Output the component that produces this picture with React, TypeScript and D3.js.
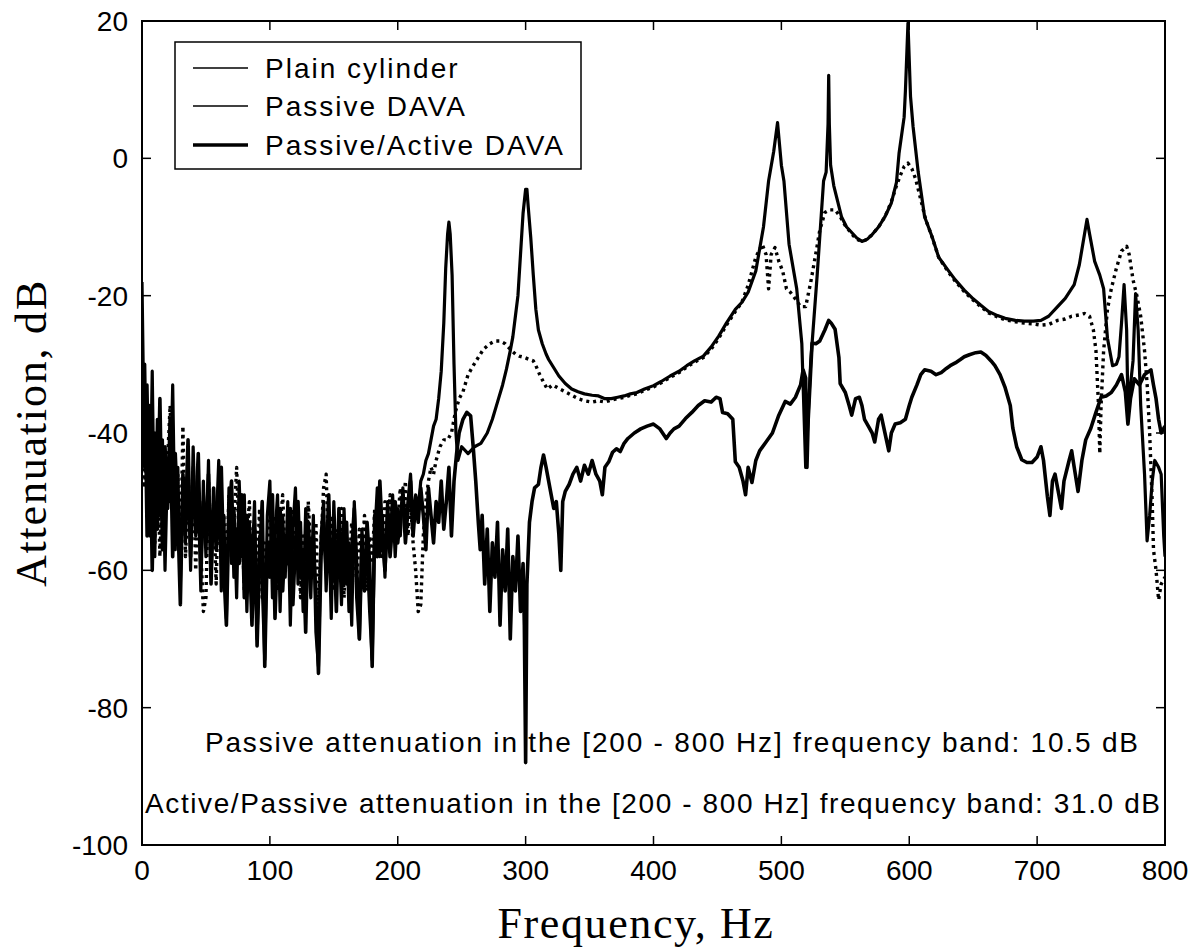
import React from "react";
import * as d3 from "d3";

// ---------- data ----------
const lowBandStepHz = 2; // noisy low band sampled every 2 Hz from 0 Hz
const plainLowDb = [-18,-45,-33,-55,-31,-58,-38,-52,-41,-60,-44,-50,-33,-57,-45,-62,-48,-56,-44,-60,-42,-55,-49,-63,-47,-58,-44,-61,-50,-54,-44,-63,-52,-67,-48,-59,-51,-64,-47,-58,-49,-66,-53,-60,-50,-70,-55,-62,-73,-52,-47,-64,-55,-49,-66,-52,-61,-50,-68,-54,-48,-62,-53,-66,-51,-58,-64,-52,-69,-74,-55,-50,-63,-53,-67,-50,-60,-55,-65,-51,-62,-56,-68,-50,-59,-70,-54,-61,-57,-66,-73,-55,-48,-58,-52,-61,-50,-56,-49,-58,-51,-55,-48,-54,-50,-46,-53,-49,-51,-47,-46,-44,-43];
const passiveLowDb = [-38,-48,-40,-52,-45,-56,-42,-58,-47,-53,-44,-36,-50,-55,-46,-60,-39,-58,-49,-54,-45,-60,-48,-57,-66,-64,-47,-56,-51,-62,-47,-57,-52,-61,-49,-58,-53,-45,-56,-51,-63,-55,-50,-65,-53,-59,-51,-64,-56,-60,-50,-57,-52,-63,-54,-49,-58,-55,-62,-51,-57,-53,-64,-55,-60,-50,-57,-61,-53,-65,-56,-48,-46,-58,-52,-63,-54,-59,-51,-64,-55,-60,-53,-57,-62,-54,-58,-52,-63,-55,-59,-51,-56,-52,-58,-50,-54,-49,-55,-51,-53,-48,-52,-47,-55,-50,-56,-60,-66,-65,-55,-50,-47];
const activeLowDb = [-40,-30,-55,-36,-60,-40,-54,-35,-57,-42,-51,-38,-58,-43,-52,-65,-46,-53,-41,-58,-48,-52,-43,-59,-50,-55,-46,-62,-48,-57,-53,-45,-60,-68,-52,-47,-61,-54,-59,-49,-64,-52,-57,-68,-54,-71,-58,-50,-74,-56,-61,-49,-67,-56,-51,-63,-55,-59,-51,-65,-56,-50,-61,-57,-69,-53,-60,-55,-64,-75,-58,-53,-60,-49,-62,-55,-66,-51,-58,-62,-53,-66,-57,-51,-64,-70,-56,-63,-53,-59,-74,-52,-58,-47,-55,-60,-52,-58,-53,-50,-56,-52,-49,-56,-51,-47,-55,-50,-53,-48,-52,-57,-48];

// [frequency Hz, attenuation dB] above the noisy band
const plainHigh: [number, number][] = [[226,-41],[228,-39],[230,-38],[232,-35],[234,-31],[236,-24],[237.5,-16],[239,-11],[240,-9.3],[241,-11],[242.5,-17],[244,-30],[245.5,-40],[247,-44],[250,-42],[255,-43],[260,-42],[265,-41.5],[270,-40],[274,-38],[278,-35.5],[282,-33],[285,-30.7],[288,-28],[290,-26],[292,-23],[294,-20],[296,-14],[298,-8],[300,-4.5],[301,-4.5],[302,-7],[304,-11.5],[306,-17],[308,-22],[310,-25],[313,-27],[316,-28.5],[318,-29.3],[322,-30.5],[326,-31.7],[331,-32.8],[336,-33.6],[341,-34],[346,-34.3],[352,-34.5],[357,-34.6],[362,-35],[367,-35],[372,-34.8],[377,-34.6],[382,-34.3],[387,-34.1],[393,-33.6],[400,-33.1],[406,-32.5],[413,-31.7],[420,-31],[426,-30.2],[432,-29.5],[439,-28.8],[445,-27.5],[451,-25.9],[457,-24],[464,-22],[469,-21],[474,-19.5],[480,-16.4],[486,-10],[490,-3.3],[494,1],[497,5.2],[500,-1],[502,-3.3],[506,-12.5],[512,-19],[516,-27],[519,-45],[523,-29.5],[528,-17],[533,-3.3],[535,-2],[536.5,5],[537,12.1],[537.5,5],[538.5,-1],[541,-4],[543,-5.5],[547,-8.5],[551,-10],[555,-10.8],[559,-11.6],[563,-12.1],[567,-11.8],[571,-11.1],[576,-10],[581,-8.5],[586,-6.5],[590,-3.5],[592,0.7],[596,6],[597,9.8],[599,19.7],[601,9],[603,4.6],[607,-2],[612,-8.5],[618,-11.5],[623,-14.4],[630,-16.2],[636,-17.7],[643,-19.2],[649,-20.3],[656,-21.4],[662,-22.3],[669,-22.9],[675,-23.3],[683,-23.6],[690,-23.7],[697,-23.7],[703,-23.6],[709,-23],[716,-21.6],[722,-20.4],[729,-18.4],[733,-15.5],[737,-11.1],[739,-8.9],[741,-11],[745,-15],[749,-17],[752,-19],[755,-26.2],[759,-30.2],[762,-30],[764,-28.9],[766,-24],[768,-18.4],[770,-25],[771,-36],[773,-33],[775,-29.5],[777,-19.7],[779,-25],[781,-36],[784,-46],[786,-55.7],[788,-52],[790,-47],[792,-44],[795,-45],[797,-46],[799,-55],[800,-58]];

const passiveHigh: [number, number][] = [[226,-45],[228,-46],[230,-44],[233,-42],[236,-41],[239,-41],[242,-40],[245,-37],[248,-35],[251,-34],[255,-31.5],[259,-30.2],[263,-29],[267,-27.8],[272,-27],[276,-26.6],[280,-26.6],[284,-27],[289,-28],[292,-28.5],[295,-28.8],[299,-29],[303,-29.3],[306,-29.5],[308,-30.2],[311,-31.5],[314,-32.6],[317,-33.6],[321,-33],[326,-33.5],[331,-34],[336,-34.5],[341,-35],[346,-35.3],[352,-35.5],[357,-35.3],[362,-35.5],[367,-35.2],[372,-35],[377,-34.8],[382,-34.5],[387,-34.3],[393,-33.8],[400,-33.3],[406,-32.7],[413,-31.9],[420,-31.2],[426,-30.4],[432,-29.7],[439,-29],[445,-27.8],[451,-26.2],[457,-24.3],[464,-22.3],[469,-21],[474,-18.5],[480,-14.4],[485,-12.5],[488,-14],[490,-19],[492,-14],[495,-13],[498,-15],[501,-16.4],[504,-19],[507,-19.5],[511,-20.5],[515,-21.6],[519,-21.6],[523,-18],[527,-13.8],[530,-10.5],[534,-7.9],[538,-7.5],[542,-7.5],[546,-8.5],[550,-9.8],[555,-11],[559,-11.8],[563,-12.1],[567,-11.8],[571,-11.1],[576,-10],[581,-8.5],[586,-6.3],[590,-4],[593,-2.5],[596,-1.2],[599,-0.7],[602,-1.5],[605,-3],[609,-6],[613,-9],[617,-11],[623,-14.4],[630,-16.4],[636,-17.9],[643,-19.4],[649,-20.5],[656,-21.6],[662,-22.5],[669,-23.1],[675,-23.5],[683,-23.8],[690,-24],[697,-24.1],[703,-24.3],[709,-24.2],[716,-23.6],[722,-23.4],[727,-23],[733,-22.8],[737,-22.6],[741,-23],[744,-25],[746,-28],[748,-36],[749,-43],[750,-36],[752,-28],[755,-22],[758,-19],[762,-16],[766,-13.5],[770,-12.8],[772,-14],[775,-17.7],[778,-20],[781,-23],[784,-28],[786,-32.8],[788,-40],[790,-50],[791,-57],[793,-60],[795,-64.3],[797,-62],[800,-61]];

const activeHigh: [number, number][] = [[226,-52],[228,-56],[230,-50],[232,-53],[234,-47],[236,-54],[238,-50],[240,-45],[242,-55],[244,-47],[246,-43],[248,-40],[251,-38],[254,-37],[257,-37.5],[259,-42],[261,-47],[263,-53],[264.5,-57],[266,-52],[268,-62],[270,-54],[272,-66],[274,-56],[276,-61],[278,-53],[280,-68],[282,-57],[284,-63],[286,-54],[288,-70],[290,-58],[292,-63],[294,-55],[296,-66],[298,-59],[299,-68],[300,-88],[301,-62],[303,-53],[305,-50],[307,-48],[310,-47.5],[312,-45],[314,-43.2],[316,-45],[318,-47],[320,-49],[322,-51],[324,-50],[326,-54.8],[327.5,-60],[329,-50],[331,-48.5],[334,-47.5],[337,-46],[340,-45],[343,-47],[346,-44.7],[349,-46],[352,-44],[355,-46],[358,-47],[360,-49],[362,-45],[365,-44.2],[368,-42.8],[371,-42.3],[374,-42.7],[377,-41.5],[380,-40.8],[385,-40],[390,-39.4],[395,-39],[400,-38.7],[405,-39.4],[410,-40.8],[413,-40],[416,-39.4],[420,-39],[425,-37.9],[430,-37],[435,-36],[440,-35.3],[445,-35.5],[449,-34.8],[452,-35],[454,-37],[458,-37.2],[462,-38],[464,-44.2],[467,-45],[470,-47],[472,-49],[474,-45],[477,-47.2],[480,-44],[483,-42.6],[488,-41.3],[493,-40],[498,-37.4],[503,-35.4],[507,-35.8],[511,-34.8],[515,-33],[517,-30.8],[519,-32],[520,-45],[521,-38],[524,-26.9],[527,-27],[530,-26.6],[534,-25],[537,-23.6],[539,-24],[542,-24.9],[545,-29],[546,-32.8],[550,-34.1],[553,-36],[555,-37.4],[558,-35],[561,-34.8],[563,-36],[565,-38],[568,-39],[571,-40],[573,-41.3],[576,-38],[578,-37.4],[581,-40],[584,-42.6],[586,-40],[589,-38.7],[593,-38.5],[597,-38],[600,-36],[602,-34.8],[606,-33],[609,-31.5],[612,-30.8],[617,-31],[621,-31.5],[625,-31.2],[629,-30.6],[632,-30.2],[636,-29.8],[640,-29.3],[643,-28.9],[647,-28.6],[652,-28.3],[656,-28.2],[660,-28.7],[664,-29.5],[667,-30.2],[671,-31.5],[675,-33.4],[679,-36],[681,-39.3],[684,-42],[688,-43.9],[692,-44.3],[696,-44.3],[700,-43.5],[703,-42],[705,-44],[708,-49.2],[710,-52],[712,-47],[714,-46],[716,-48],[719,-51],[721,-47],[725,-44],[727,-42.6],[729,-45],[732,-48.5],[735,-44],[738,-41],[742,-39.3],[746,-37],[750,-34.8],[754,-34.6],[758,-34.1],[762,-33],[766,-31.5],[769,-34],[771,-38.7],[773,-35],[776,-32.1],[780,-33],[784,-31.5],[789,-30.8],[791,-33],[793,-35],[795,-38],[797,-40],[800,-39]];

const xTicks = [0, 100, 200, 300, 400, 500, 600, 700, 800];
const yTicks = [20, 0, -20, -40, -60, -80, -100];
const legendLabels = ["Plain cylinder", "Passive DAVA", "Passive/Active DAVA"];
const noteLines = [
  "Passive attenuation in the [200 - 800 Hz] frequency band: 10.5 dB",
  "Active/Passive attenuation in the [200 - 800 Hz] frequency band: 31.0 dB",
];

function buildSeries(low: number[], high: [number, number][]): [number, number][] {
  const pts: [number, number][] = low.map((v, i) => [i * lowBandStepHz, v]);
  return pts.concat(high);
}

export default function App() {
  const W = 1201, H = 951;
  const L = 142, R = 1165, T = 21, B = 845;
  const x = d3.scaleLinear().domain([0, 800]).range([L, R]);
  const y = d3.scaleLinear().domain([-100, 20]).range([B, T]);
  const line = d3.line<[number, number]>().x(d => x(d[0])).y(d => y(d[1]));

  const plain = buildSeries(plainLowDb, plainHigh);
  const passive = buildSeries(passiveLowDb, passiveHigh);
  const active = buildSeries(activeLowDb, activeHigh);

  const sans = "Arial, 'Liberation Sans', Helvetica, sans-serif";
  const serif = "'Times New Roman', 'Liberation Serif', Times, serif";
  const tickLen = 9;

  const legRows = [68, 106, 145];
  const legWidths = [1.6, 1.6, 3.4];

  return (
    <svg width={W} height={H} style={{ position: "absolute", left: 0, top: 0, background: "#fff" }}>
      <defs>
        <clipPath id="plotClip">
          <rect x={L} y={T - 2} width={R - L} height={B - T + 2} />
        </clipPath>
      </defs>
      <rect x={0} y={0} width={W} height={H} fill="#fff" />

      <g clipPath="url(#plotClip)" fill="none" strokeLinejoin="round">
        <path d={line(plain) || ""} stroke="#000" strokeWidth={3.2} />
        <path d={line(passive) || ""} stroke="#000" strokeWidth={3.4} strokeDasharray="3 4" />
        <path d={line(active) || ""} stroke="#000" strokeWidth={3.6} />
      </g>

      {/* frame */}
      <rect x={L} y={T} width={R - L} height={B - T} fill="none" stroke="#000" strokeWidth={2} />

      {/* ticks */}
      {xTicks.map(t => (
        <g key={"xt" + t}>
          <line x1={x(t)} x2={x(t)} y1={B} y2={B - tickLen} stroke="#000" strokeWidth={1.5} />
          <line x1={x(t)} x2={x(t)} y1={T} y2={T + tickLen} stroke="#000" strokeWidth={1.5} />
          <text x={x(t)} y={B + 35} textAnchor="middle" fontFamily={sans} fontSize={28} fill="#000">{t}</text>
        </g>
      ))}
      {yTicks.map(t => (
        <g key={"yt" + t}>
          <line x1={L} x2={L + tickLen} y1={y(t)} y2={y(t)} stroke="#000" strokeWidth={1.5} />
          <line x1={R} x2={R - tickLen} y1={y(t)} y2={y(t)} stroke="#000" strokeWidth={1.5} />
          <text x={L - 14} y={y(t) + 10} textAnchor="end" fontFamily={sans} fontSize={28} fill="#000">{t}</text>
        </g>
      ))}

      {/* axis labels */}
      <text x={636} y={938} textAnchor="middle" fontFamily={serif} fontSize={44} letterSpacing={1.6} fill="#000">Frequency, Hz</text>
      <text transform={`translate(46, 433) rotate(-90)`} textAnchor="middle" fontFamily={serif} fontSize={44} letterSpacing={1.8} fill="#000">Attenuation, dB</text>

      {/* legend */}
      <rect x={175} y={42} width={406} height={127} fill="#fff" stroke="#000" strokeWidth={1.5} />
      {legendLabels.map((lab, i) => (
        <g key={lab}>
          <line x1={193} x2={248} y1={legRows[i]} y2={legRows[i]} stroke="#000" strokeWidth={legWidths[i]} />
          <text x={265} y={legRows[i] + 10} fontFamily={sans} fontSize={28} letterSpacing={2} fill="#000">{lab}</text>
        </g>
      ))}

      {/* annotations */}
      <text x={205} y={752} fontFamily={sans} fontSize={28} textLength={933} lengthAdjust="spacing" fill="#000">{noteLines[0]}</text>
      <text x={145} y={813} fontFamily={sans} fontSize={28} textLength={1015} lengthAdjust="spacing" fill="#000">{noteLines[1]}</text>
    </svg>
  );
}
